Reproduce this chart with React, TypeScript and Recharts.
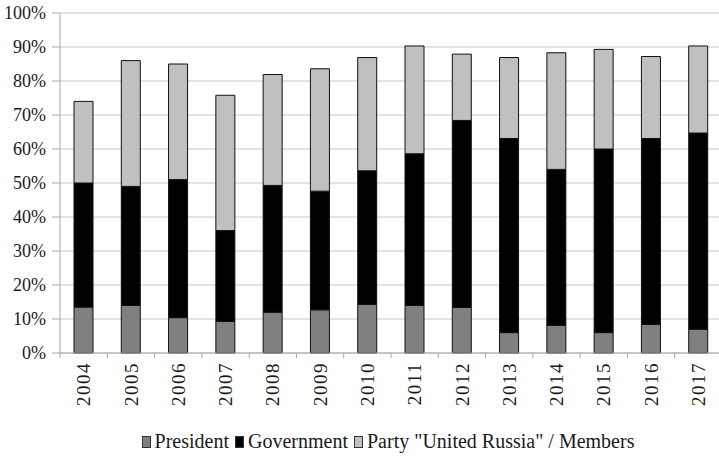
import React from "react";
import {
  BarChart,
  Bar,
  XAxis,
  YAxis,
  CartesianGrid,
  Legend,
} from "recharts";

const years = [
  "2004", "2005", "2006", "2007", "2008", "2009", "2010",
  "2011", "2012", "2013", "2014", "2015", "2016", "2017",
];
const president = [13.5, 14.0, 10.4, 9.3, 12.0, 12.7, 14.3, 14.0, 13.4, 6.0, 8.1, 6.0, 8.4, 7.0];
const government = [36.5, 35.0, 40.6, 26.7, 37.3, 34.9, 39.3, 44.6, 55.0, 57.1, 45.9, 54.0, 54.7, 57.7];
const party = [24.0, 37.0, 34.0, 39.8, 32.6, 36.0, 33.3, 31.7, 19.5, 23.8, 34.3, 29.3, 24.1, 25.6];
const yTicks = [0, 10, 20, 30, 40, 50, 60, 70, 80, 90, 100];

const series = [
  { key: "president", name: "President", color: "#808080" },
  { key: "government", name: "Government", color: "#000000" },
  { key: "party", name: 'Party "United Russia" / Members', color: "#c0c0c0" },
];

const data = years.map((year, i) => ({
  year,
  president: president[i],
  government: government[i],
  party: party[i],
}));

const FONT = "Liberation Serif, DejaVu Serif, Noto Serif, Tinos, Times New Roman, serif";

// year label rotated, plus a tick mark at the category boundary
const YearTick = (props: any) => {
  const { x, y, payload, index, visibleTicksCount } = props;
  const half = payload.offset ?? 0;
  return (
    <g>
      <line x1={x - half} x2={x - half} y1={y} y2={y + 5} stroke="#a6a6a6" />
      {index === visibleTicksCount - 1 && (
        <line x1={x + half} x2={x + half} y1={y} y2={y + 5} stroke="#a6a6a6" />
      )}
      <text
        x={x}
        y={y + 9}
        transform={`rotate(-90 ${x} ${y + 9})`}
        textAnchor="end"
        dy="0.35em"
        fontSize={19}
        fontFamily={FONT}
        fill="#1a1a1a"
        letterSpacing={1.5}
      >
        {payload.value}
      </text>
    </g>
  );
};

const LegendContent = () => (
  <div
    style={{
      display: "flex",
      justifyContent: "center",
      alignItems: "center",
      fontFamily: FONT,
      fontSize: 20,
      color: "#1a1a1a",
    }}
  >
    {series.map((s) => (
      <div key={s.key} style={{ display: "flex", alignItems: "center", marginRight: 6 }}>
        <span
          style={{
            display: "inline-block",
            width: 7,
            height: 10,
            background: s.color,
            border: "1px solid #333",
            marginRight: 4,
          }}
        />
        <span>{s.name}</span>
      </div>
    ))}
  </div>
);

export default function App() {
  return (
    <div style={{ position: "absolute", left: 0, top: 0, width: 719, height: 460, overflow: "hidden", background: "#fff" }}>
      <BarChart
        width={724}
        height={460}
        data={data}
        margin={{ top: 13, right: 2, bottom: 0, left: 0 }}
        barSize={19}
      >
        <CartesianGrid vertical={false} stroke="#c8c8c8" />
        <XAxis
          dataKey="year"
          height={77}
          interval={0}
          tickSize={0}
          tickMargin={0}
          stroke="#a6a6a6"
          tick={<YearTick />}
        />
        <YAxis
          width={60}
          domain={[0, 100]}
          ticks={yTicks}
          tickFormatter={(v) => `${v}%`}
          tickSize={8}
          tickMargin={6}
          stroke="#a6a6a6"
          tick={{ fontSize: 18, fontFamily: FONT, fill: "#1a1a1a" }}
        />
        <Legend
          verticalAlign="bottom"
          height={30}
          content={<LegendContent />}
          wrapperStyle={{ left: 60, width: 662 }}
        />
        {series.map((s) => (
          <Bar
            key={s.key}
            dataKey={s.key}
            name={s.name}
            stackId="a"
            fill={s.color}
            stroke="#111"
            strokeWidth={1}
            isAnimationActive={false}
          />
        ))}
      </BarChart>
    </div>
  );
}
